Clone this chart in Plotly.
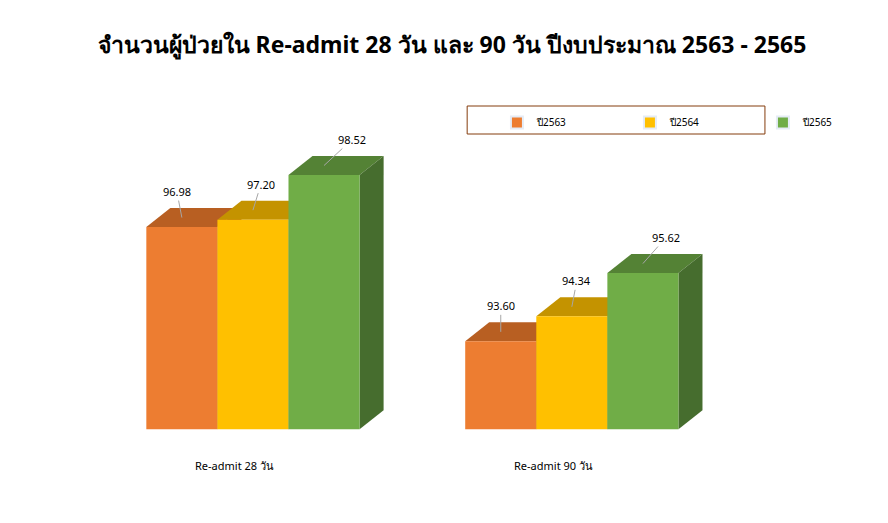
import plotly.graph_objects as go

categories = ["Re-admit 28 วัน", "Re-admit 90 วัน"]
series = ["ปี2563", "ปี2564", "ปี2565"]
values = {
    "ปี2563": [96.98, 93.60],
    "ปี2564": [97.20, 94.34],
    "ปี2565": [98.52, 95.62],
}
front = ["#ED7D31", "#FFC000", "#70AD47"]
top = ["#B85F22", "#C49300", "#548235"]
side = ["#A0521C", "#AA7F00", "#466D2E"]

base = 91.0
dx, dy = 0.338, 0.562
group_start = [0.0, 4.486]
label_ax = [[-5, 8, 28], [0, 5, 23]]

W, H = 888, 523

fig = go.Figure()
for gi, cat in enumerate(categories):
    for si, s in enumerate(series):
        v = values[s][gi]
        c = group_start[gi] + si
        x0, x1 = c - 0.5, c + 0.5
        fig.add_trace(go.Scatter(x=[x0, x0 + dx, x1 + dx, x1, x0], y=[v, v + dy, v + dy, v, v],
                                 fill="toself", fillcolor=top[si], line=dict(width=0),
                                 mode="lines", hoverinfo="skip", showlegend=False))
        fig.add_trace(go.Scatter(x=[x1, x1 + dx, x1 + dx, x1, x1], y=[base, base + dy, v + dy, v, base],
                                 fill="toself", fillcolor=side[si], line=dict(width=0),
                                 mode="lines", hoverinfo="skip", showlegend=False))
        fig.add_trace(go.Scatter(x=[x0, x1, x1, x0, x0], y=[base, base, v, v, base],
                                 fill="toself", fillcolor=front[si], line=dict(width=0),
                                 mode="lines", hoverinfo="skip", showlegend=False))
        fig.add_annotation(x=c, y=v + dy / 2, text=f"{v:.2f}", showarrow=True, arrowhead=0,
                           arrowwidth=1, arrowcolor="#A6A6A6", ax=label_ax[gi][si], ay=-26,
                           font=dict(size=11, color="#000"))
    fig.add_annotation(x=group_start[gi] + 1 - 0.26, y=base - 36 / 33.8, text=cat, showarrow=False,
                       font=dict(size=11, color="#000"))

for si, s in enumerate(series):
    fig.add_trace(go.Bar(x=[None], y=[None], name=s, marker_color=front[si]))

fig.add_shape(type="rect", xref="paper", yref="paper",
              x0=478 / W, x1=788 / W, y0=1 - 126 / H, y1=1 - 98 / H,
              line=dict(color="#843C0C", width=1))

fig.update_layout(
    width=W, height=H, margin=dict(l=0, r=0, t=0, b=0),
    plot_bgcolor="white", paper_bgcolor="white",
    font=dict(family="Noto Sans, sans-serif"),
    xaxis=dict(range=[-2.446, 9.554], visible=False),
    yaxis=dict(range=[87.99, 103.46], visible=False),
    title=dict(text="<b>จำนวนผู้ป่วยใน Re-admit 28 วัน และ 90 วัน ปีงบประมาณ 2563 - 2565</b>",
               x=0.5, y=0.945, xanchor="center", font=dict(size=23, color="#000")),
    legend=dict(orientation="h", x=509 / W, y=1 - 100 / H, xanchor="left", yanchor="top",
                borderwidth=0, entrywidth=88, font=dict(size=10, color="#000"),
                bgcolor="rgba(0,0,0,0)", itemsizing="constant"),
    showlegend=True,
)
fig.write_html("out.html")
